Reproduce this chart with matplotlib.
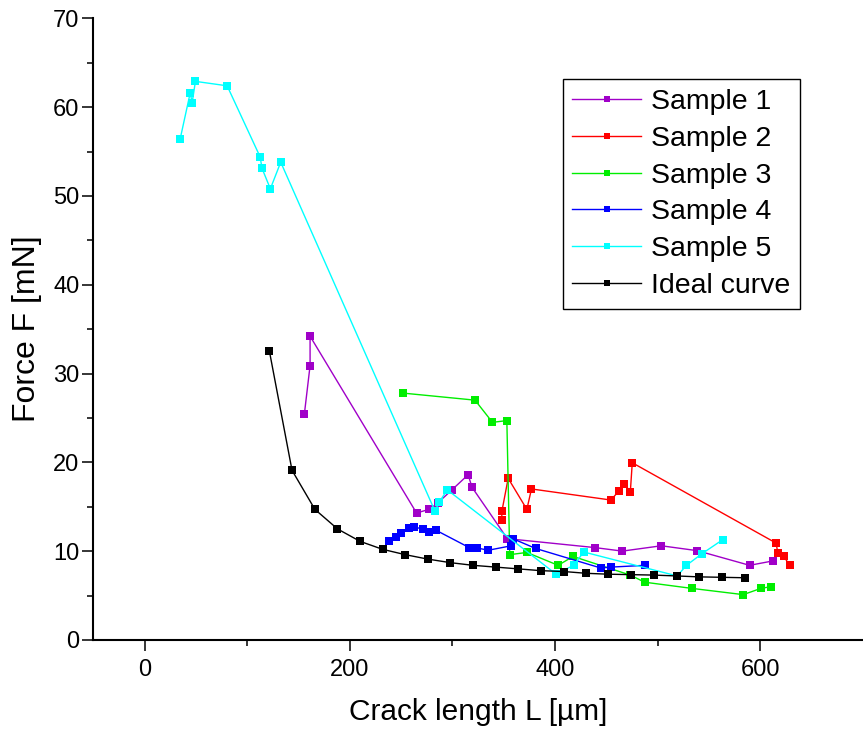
import matplotlib
matplotlib.use("Agg")
import matplotlib.pyplot as plt

plt.rcParams['font.family'] = ['Liberation Sans', 'DejaVu Sans']

# Sample 1
s1_x = [155.7, 161.3, 161.3, 265.0, 277.4, 285.5, 299.5, 315.3, 319.0, 353.5,
        438.6, 465.5, 503.5, 538.5, 589.5, 612.5]
s1_y = [25.4, 30.9, 34.2, 14.3, 14.7, 15.4, 16.9, 18.6, 17.2, 11.4,
        10.4, 10.0, 10.6, 10.05, 8.4, 8.9]

# Sample 2
s2_x = [348.0, 348.2, 354.3, 372.5, 377.0, 454.5, 462.3, 467.5, 473.3, 475.2,
        615.4, 617.0, 623.0, 628.4]
s2_y = [13.5, 14.5, 18.2, 14.7, 17.0, 15.75, 16.8, 17.6, 16.65, 19.95,
        10.9, 9.75, 9.4, 8.4]

# Sample 3
s3_x = [251.4, 322.0, 339.0, 353.0, 355.8, 372.5, 403.0, 417.5, 473.3, 487.2,
        533.4, 583.3, 600.5, 610.5]
s3_y = [27.8, 27.0, 24.5, 24.7, 9.6, 9.85, 8.4, 9.4, 7.3, 6.5,
        5.8, 5.1, 5.8, 6.0]

# Sample 4
s4_x = [237.8, 245.0, 249.8, 257.3, 263.0, 271.0, 276.7, 284.0, 316.3, 324.0,
        335.0, 357.3, 358.8, 381.0, 444.5, 454.5, 488.0]
s4_y = [11.1, 11.6, 12.0, 12.6, 12.7, 12.5, 12.1, 12.35, 10.4, 10.35,
        10.1, 10.6, 11.4, 10.3, 8.1, 8.2, 8.4]

# Sample 5
s5_x = [34.7, 44.5, 46.4, 49.6, 80.5, 112.6, 114.5, 122.6, 132.7, 283.0,
        287.0, 295.0, 401.0, 418.0, 428.0, 519.0, 528.0, 543.0, 563.5]
s5_y = [56.4, 61.6, 60.5, 62.9, 62.4, 54.4, 53.1, 50.8, 53.8, 14.5,
        15.5, 16.9, 7.4, 8.4, 9.9, 7.2, 8.4, 9.7, 11.3]

# Ideal curve
id_x = [121.7, 143.7, 166.0, 188.0, 210.0, 232.0, 254.0, 276.0, 298.0, 320.0,
        342.0, 364.0, 386.0, 408.5, 430.5, 452.0, 474.0, 496.0, 519.0, 540.0,
        562.6, 584.6]
id_y = [32.5, 19.1, 14.7, 12.5, 11.1, 10.2, 9.6, 9.1, 8.7, 8.4,
        8.2, 8.0, 7.8, 7.7, 7.5, 7.4, 7.35, 7.3, 7.2, 7.1,
        7.05, 7.0]

series = [
    (s1_x, s1_y, '#A000C8', 'Sample 1'),
    (s2_x, s2_y, '#FF0000', 'Sample 2'),
    (s3_x, s3_y, '#00EE00', 'Sample 3'),
    (s4_x, s4_y, '#0000FF', 'Sample 4'),
    (s5_x, s5_y, '#00FFFF', 'Sample 5'),
    (id_x, id_y, '#000000', 'Ideal curve'),
]

fig = plt.figure(figsize=(8.63, 7.33), dpi=100)
ax = fig.add_axes([0.108, 0.127, 0.892, 0.848])

for xs, ys, c, lab in series:
    ax.plot(xs, ys, color=c, lw=1.0, marker='s', markersize=6,
            markeredgewidth=0, label=lab)

ax.set_xlim(-50, 700)
ax.set_ylim(0, 70)
ax.set_xticks([0, 200, 400, 600])
ax.set_xticks([100, 300, 500], minor=True)
ax.set_yticks(range(0, 71, 10))
ax.set_yticks(range(5, 70, 10), minor=True)

for side in ['top', 'right']:
    ax.spines[side].set_visible(False)
for side in ['left', 'bottom']:
    ax.spines[side].set_linewidth(1.5)

ax.tick_params(which='major', direction='out', length=8, width=1.1,
               labelsize=17, pad=2)
ax.tick_params(which='minor', direction='out', length=4.5, width=1.1)
ax.tick_params(axis='x', which='major', pad=6)

ax.set_xlabel('Crack length L [µm]', fontsize=21.5, labelpad=12)
ax.set_ylabel('Force F [mN]', fontsize=23, labelpad=8)

leg = ax.legend(loc='upper right', bbox_to_anchor=(800 / 863, 1 - 79 / 733),
                bbox_transform=fig.transFigure, fontsize=20.5, frameon=True,
                fancybox=False, edgecolor='black', framealpha=1,
                handlelength=2.4, handletextpad=0.35, labelspacing=0.38,
                borderpad=0.35, borderaxespad=0, markerscale=0.75, numpoints=1)
leg.get_frame().set_linewidth(1.0)

fig.savefig('out.png', dpi=100)
